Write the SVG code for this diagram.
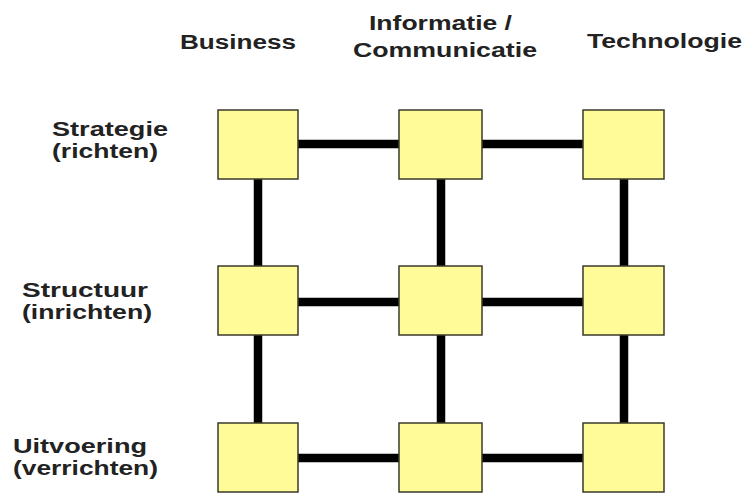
<svg xmlns="http://www.w3.org/2000/svg" width="745" height="493" viewBox="0 0 745 493">
<style>
.lbl{font-family:"Liberation Sans",Arial,sans-serif;font-weight:bold;font-size:20px;fill:#222}
.box{fill:#FFFB98;stroke:#3a3a2a;stroke-width:1.5}
.c{stroke:#000;stroke-width:8.5;fill:none}
</style>
<rect width="745" height="493" fill="#fff"/>
<g id="headers">
<text class="lbl" x="180" y="49" textLength="116" lengthAdjust="spacingAndGlyphs">Business</text>
<text class="lbl" x="369" y="30" textLength="143" lengthAdjust="spacingAndGlyphs">Informatie /</text>
<text class="lbl" x="353" y="57" textLength="184" lengthAdjust="spacingAndGlyphs">Communicatie</text>
<text class="lbl" x="587" y="48" textLength="155" lengthAdjust="spacingAndGlyphs">Technologie</text>
</g>
<g id="row-labels">
<text class="lbl" x="52" y="136" textLength="116" lengthAdjust="spacingAndGlyphs">Strategie</text>
<text class="lbl" x="52" y="158" textLength="106" lengthAdjust="spacingAndGlyphs">(richten)</text>
<text class="lbl" x="22" y="297" textLength="126" lengthAdjust="spacingAndGlyphs">Structuur</text>
<text class="lbl" x="22" y="319" textLength="130" lengthAdjust="spacingAndGlyphs">(inrichten)</text>
<text class="lbl" x="13" y="453" textLength="134" lengthAdjust="spacingAndGlyphs">Uitvoering</text>
<text class="lbl" x="13" y="475" textLength="145" lengthAdjust="spacingAndGlyphs">(verrichten)</text>
</g>
<g id="connectors">
<line class="c" x1="298" y1="144" x2="399" y2="144"/>
<line class="c" x1="482" y1="144" x2="583" y2="144"/>
<line class="c" x1="298" y1="302" x2="399" y2="302"/>
<line class="c" x1="482" y1="302" x2="583" y2="302"/>
<line class="c" x1="298" y1="458" x2="399" y2="458"/>
<line class="c" x1="482" y1="458" x2="583" y2="458"/>
<line class="c" x1="258" y1="179" x2="258" y2="266"/>
<line class="c" x1="258" y1="335" x2="258" y2="423"/>
<line class="c" x1="441" y1="179" x2="441" y2="266"/>
<line class="c" x1="441" y1="335" x2="441" y2="423"/>
<line class="c" x1="624" y1="179" x2="624" y2="266"/>
<line class="c" x1="624" y1="335" x2="624" y2="423"/>
</g>
<g id="n-strategie-business"><rect class="box" x="218" y="110" width="80" height="69"/></g>
<g id="n-strategie-informatie"><rect class="box" x="399" y="110" width="83" height="69"/></g>
<g id="n-strategie-technologie"><rect class="box" x="583" y="110" width="81" height="69"/></g>
<g id="n-structuur-business"><rect class="box" x="218" y="266" width="80" height="69"/></g>
<g id="n-structuur-informatie"><rect class="box" x="399" y="266" width="83" height="69"/></g>
<g id="n-structuur-technologie"><rect class="box" x="583" y="266" width="81" height="69"/></g>
<g id="n-uitvoering-business"><rect class="box" x="218" y="423" width="80" height="69"/></g>
<g id="n-uitvoering-informatie"><rect class="box" x="399" y="423" width="83" height="69"/></g>
<g id="n-uitvoering-technologie"><rect class="box" x="583" y="423" width="81" height="69"/></g>
</svg>
